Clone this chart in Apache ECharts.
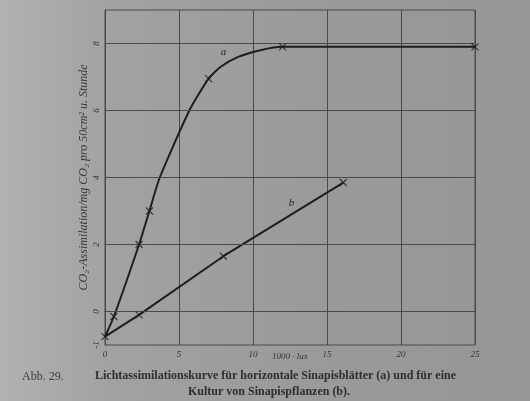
<!DOCTYPE html>
<html>
<head>
<meta charset="utf-8">
<script src="https://cdn.jsdelivr.net/npm/echarts@6/dist/echarts.min.js"></script>
<style>
  html, body { margin: 0; padding: 0; }
  #main {
    width: 530px; height: 401px;
    background: linear-gradient(90deg, #b2b2b2 0%, #a2a2a2 20%, #9a9a9a 60%, #969696 100%);
  }
</style>
</head>
<body>
<div id="main"></div>
<script>
var chart = echarts.init(document.getElementById('main'));

// curve a: read along the drawn line, and the measured points (crosses)
var curveA = [[0, -0.75], [0.6, -0.15], [2.3, 2.0], [3.0, 3.0], [3.7, 4.0], [5.7, 6.0],
              [7.0, 6.95], [7.8, 7.3], [9.0, 7.6], [10.5, 7.8], [12, 7.9], [25, 7.9]];
var pointsA = [[0, -0.75], [0.6, -0.15], [2.3, 2.0], [3.0, 3.0], [7.0, 6.95], [12, 7.9], [25, 7.9]];
// curve b
var curveB = [[0, -0.75], [2.3, -0.1], [8.0, 1.65], [16.1, 3.85]];
var pointsB = [[2.3, -0.1], [8.0, 1.65], [16.1, 3.85]];
var yGrid = [0, 2, 4, 6, 8];
var yLabels = [-1, 0, 2, 4, 6, 8];

var ink = '#1e1e1e';
var gridInk = '#4a4a4a';
var serif = 'Liberation Serif';
var cross = 'path://M0,0L10,10M10,0L0,10';

function crossSeries(data) {
    return {
        type: 'scatter',
        data: data,
        symbol: cross,
        symbolSize: 7,
        itemStyle: { color: 'transparent', borderColor: ink, borderWidth: 1.2 },
        z: 5
    };
}

option = {
    animation: false,
    grid: {
        left: 105, right: 55, top: 10, bottom: 56,
        show: true, borderColor: gridInk, borderWidth: 1
    },
    xAxis: {
        type: 'value', min: 0, max: 25, interval: 5,
        axisLine: { lineStyle: { color: gridInk } },
        axisTick: { show: false },
        axisLabel: { color: '#333', fontFamily: serif, fontStyle: 'italic', fontSize: 9, margin: 5 },
        splitLine: { show: true, lineStyle: { color: gridInk, width: 1 } }
    },
    yAxis: {
        type: 'value', min: -1, max: 9, interval: 1,
        axisLine: { lineStyle: { color: gridInk } },
        axisTick: { show: false },
        splitLine: { show: false },
        axisLabel: {
            color: '#333', fontFamily: serif, fontStyle: 'italic', fontSize: 9, rotate: 90, margin: 4,
            formatter: function (v) { return yLabels.indexOf(v) >= 0 ? String(v) : ''; }
        },
        name: 'CO₂-Assimilation/mg CO₂ pro 50cm² u. Stunde',
        nameLocation: 'middle',
        nameGap: 15,
        nameMoveOverlap: false,
        nameTextStyle: { color: '#383838', fontFamily: serif, fontStyle: 'italic', fontSize: 12 }
    },
    graphic: [
        { type: 'text', left: 272, top: 352,
          style: { text: '1000 · lux', fill: '#333', font: 'italic 9px "Liberation Serif"' } },
        { type: 'text', left: 22, top: 371,
          style: { text: 'Abb. 29.', fill: '#3a3a3a', font: '12px "Liberation Serif"' } },
        { type: 'text', left: 95, top: 370,
          style: { text: 'Lichtassimilationskurve für horizontale Sinapisblätter (a) und für eine',
                   fill: '#2e2e2e', font: 'bold 12px "Liberation Serif"' } },
        { type: 'text', left: 188, top: 386,
          style: { text: 'Kultur von Sinapispflanzen (b).', fill: '#2e2e2e', font: 'bold 12px "Liberation Serif"' } }
    ],
    series: [
        {
            type: 'line', data: curveA, smooth: 0.2,
            showSymbol: false, lineStyle: { color: ink, width: 2 },
            markPoint: {
                symbol: 'circle', symbolSize: 1, itemStyle: { color: 'transparent' },
                label: { show: true, color: ink, fontFamily: serif, fontStyle: 'italic', fontSize: 11, formatter: 'a' },
                data: [{ coord: [8.0, 7.75] }]
            },
            markLine: {
                silent: true, symbol: 'none', label: { show: false },
                lineStyle: { color: gridInk, width: 1, type: 'solid' },
                data: yGrid.map(function (v) { return { yAxis: v }; })
            }
        },
        {
            type: 'line', data: curveB, showSymbol: false, lineStyle: { color: ink, width: 2 },
            markPoint: {
                symbol: 'circle', symbolSize: 1, itemStyle: { color: 'transparent' },
                label: { show: true, color: ink, fontFamily: serif, fontStyle: 'italic', fontSize: 11, formatter: 'b' },
                data: [{ coord: [12.6, 3.25] }]
            }
        },
        crossSeries(pointsA),
        crossSeries(pointsB)
    ]
};
chart.setOption(option, true);
</script>
</body>
</html>
